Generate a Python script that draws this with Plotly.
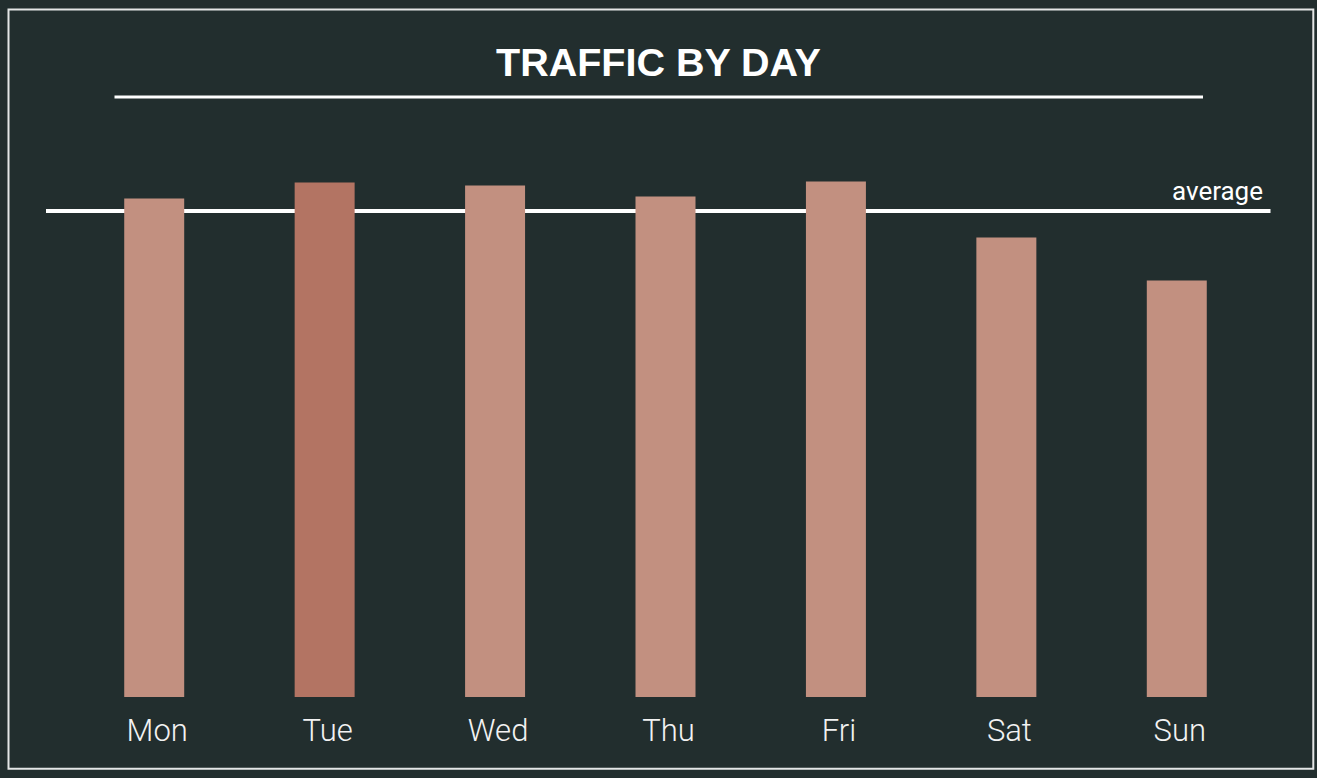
import plotly.graph_objects as go

# ---- data ----
days = ["Mon", "Tue", "Wed", "Thu", "Fri", "Sat", "Sun"]
traffic = [4985, 5145, 5115, 5005, 5155, 4595, 4165]
average_traffic = 4860
highlight_day = "Tue"
title_text = "TRAFFIC BY DAY"
average_label = "average"

# ---- style ----
BG = "#222e2e"
BAR = "#c29080"
BAR_HI = "#b37463"
W, H = 1317, 778
PLOT_L, PLOT_R, PLOT_T, PLOT_B = 69, 1262, 140, 697  # target page pixels
ML, MT = PLOT_L, PLOT_T
MR = W - PLOT_R
MB = H - PLOT_B
PW, PH = W - ML - MR, H - MT - MB
Y_MAX = 5570


def px_x(p):
    return (p - PLOT_L) / PW


def px_y(p):
    return (PLOT_B - p) / PH


colors = [BAR_HI if d == highlight_day else BAR for d in days]

fig = go.Figure()
fig.add_trace(go.Bar(x=days, y=traffic, marker=dict(color=colors, line=dict(width=0)),
                     width=0.352, hoverinfo="x+y"))

shapes = [
    # outer frame
    dict(type="rect", xref="paper", yref="paper", x0=px_x(8.5), x1=px_x(1313.3),
         y0=px_y(768.8), y1=px_y(9.5), line=dict(color="#e4e6e6", width=2), layer="above"),
    # title underline
    dict(type="line", xref="paper", yref="paper", x0=px_x(114.5), x1=px_x(1203),
         y0=px_y(97), y1=px_y(97), line=dict(color="white", width=3)),
    # average line (behind bars)
    dict(type="line", xref="paper", yref="y", x0=px_x(46), x1=px_x(1270.5),
         y0=average_traffic, y1=average_traffic, line=dict(color="white", width=4), layer="below"),
]

annotations = [
    dict(text=average_label, xref="paper", yref="y", x=px_x(1265), y=average_traffic,
         xanchor="right", yanchor="bottom", yshift=3, showarrow=False,
         font=dict(family="Roboto", size=26, color="white", weight=400)),
    dict(text="<b>" + title_text + "</b>", xref="paper", yref="paper", x=px_x(658.5), y=px_y(62),
         xanchor="center", yanchor="middle", showarrow=False,
         font=dict(family="Liberation Sans", size=39.5, color="white")),
]

fig.update_layout(
    width=W, height=H,
    margin=dict(l=ML, r=MR, t=MT, b=MB, pad=0),
    paper_bgcolor=BG, plot_bgcolor=BG,
    showlegend=False,
    shapes=shapes, annotations=annotations,
    xaxis=dict(range=[-0.5, 6.5], showgrid=False, zeroline=False, showline=False, ticks="",
               tickfont=dict(family="Roboto", size=31, color="#f2f2f2", weight=300),
               ticklabelstandoff=12, ticklabelshift=3, fixedrange=True),
    yaxis=dict(range=[0, Y_MAX], visible=False, showgrid=False, zeroline=False, fixedrange=True),
)

fig.write_html(
    "out.html",
    config={"displayModeBar": False},
    post_script="document.body.style.margin='0';document.body.style.overflow='hidden';"
                "document.body.style.background='" + BG + "';",
)
